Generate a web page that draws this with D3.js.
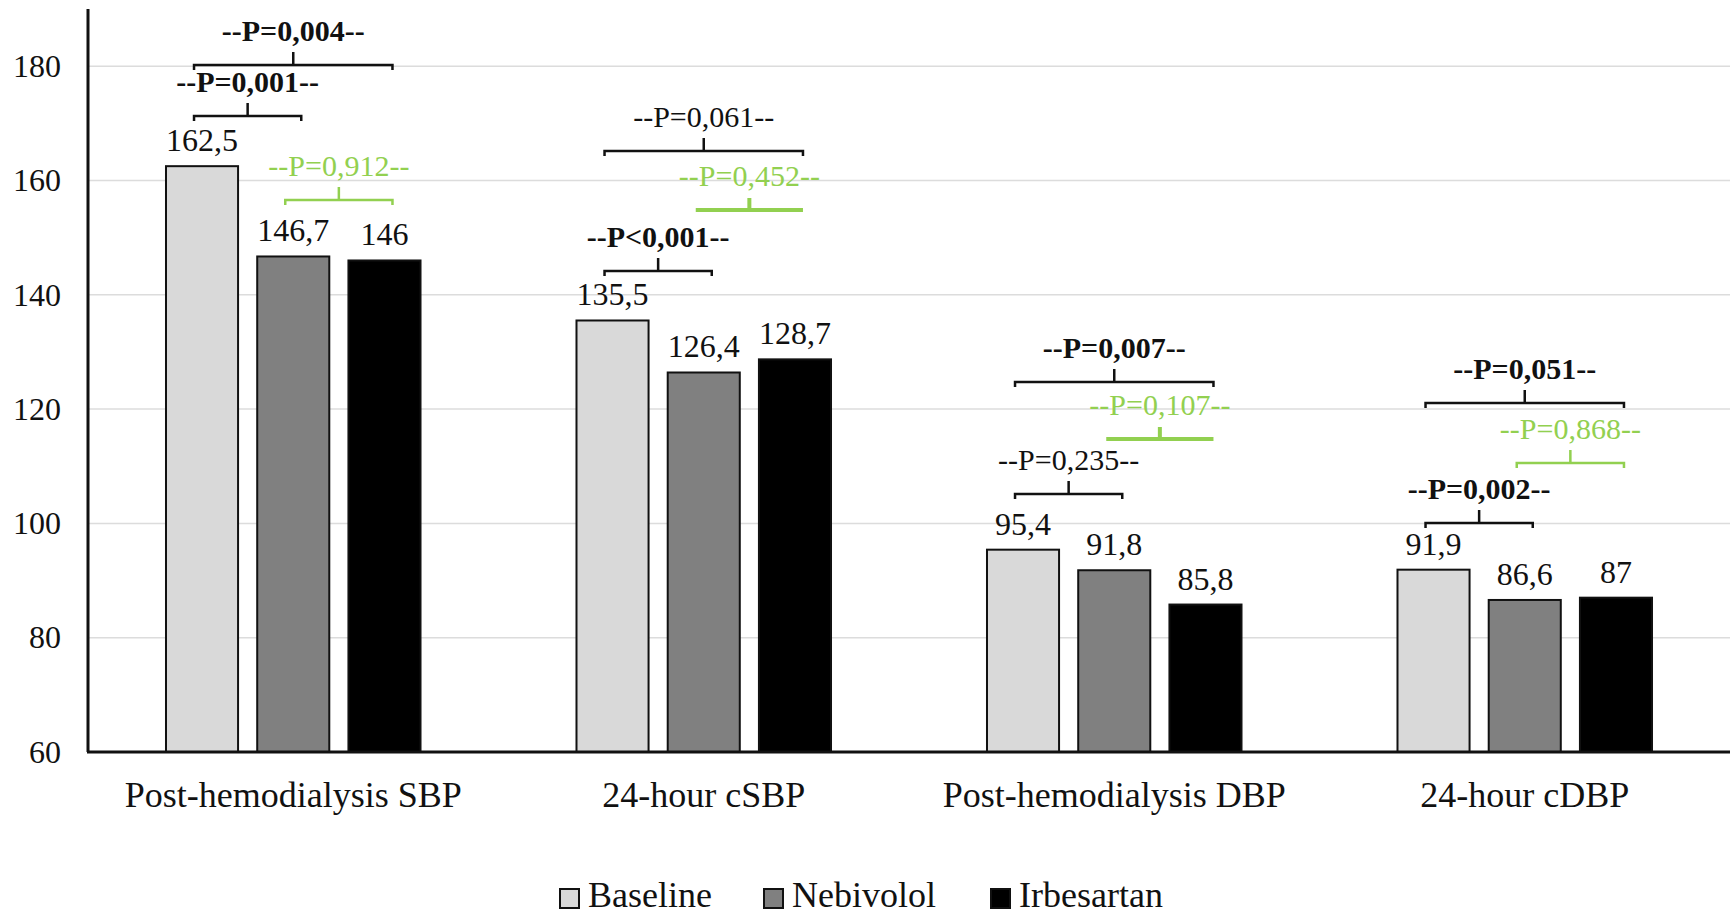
<!DOCTYPE html>
<html>
<head>
<meta charset="utf-8">
<script src="https://cdn.jsdelivr.net/npm/d3@7"></script>
<style>
  body { margin: 0; background: #fff; }
  text { font-family: "Liberation Serif", "Times New Roman", serif; }
</style>
</head>
<body>
<script>
var width = 1733;
var height = 918;

// data
var categories = ["Post-hemodialysis SBP", "24-hour cSBP", "Post-hemodialysis DBP", "24-hour cDBP"];
var series = ["Baseline", "Nebivolol", "Irbesartan"];
var baseline = [162.5, 135.5, 95.4, 91.9];
var nebivolol = [146.7, 126.4, 91.8, 86.6];
var irbesartan = [146, 128.7, 85.8, 87];
var yTicks = [60, 80, 100, 120, 140, 160, 180];

// p-value brackets: category index, from series, to series, level (y value), label
var pCat = [0, 0, 0, 1, 1, 1, 2, 2, 2, 3, 3, 3];
var pFrom = [0, 0, 1, 0, 1, 0, 0, 1, 0, 0, 1, 0];
var pTo = [2, 1, 2, 2, 2, 1, 2, 2, 1, 2, 2, 1];
var pLevel = [180.2, 171.2, 156.5, 165.1, 154.8, 144.1, 124.8, 114.7, 105.2, 121.0, 110.5, 100.1];
var pLabel = ["--P=0,004--", "--P=0,001--", "--P=0,912--", "--P=0,061--", "--P=0,452--", "--P<0,001--",
  "--P=0,007--", "--P=0,107--", "--P=0,235--", "--P=0,051--", "--P=0,868--", "--P=0,002--"];
var pBold = [true, true, false, false, false, true, true, false, false, true, false, true];

var values = [baseline, nebivolol, irbesartan];
var colors = ["#d9d9d9", "#808080", "#000000"];
var green = "#92d050";

var svg = d3.select('body').append('svg').attr('width', width).attr('height', height);

var plotLeft = 88, plotRight = 1730, plotTop = 9, plotBottom = 752;

var x0 = d3.scaleBand().domain(d3.range(categories.length)).range([plotLeft, plotRight])
  .paddingInner(0.38).paddingOuter(0.19);
var x1 = d3.scaleBand().domain(d3.range(series.length)).range([0, x0.bandwidth()])
  .paddingInner(0.21);
var y = d3.scaleLinear().domain([60, 190]).range([plotBottom, plotTop]);

// gridlines
svg.append("g").selectAll("line")
  .data(yTicks.slice(1))
  .enter().append("line")
  .attr("x1", plotLeft).attr("x2", plotRight)
  .attr("y1", function (d) { return y(d); })
  .attr("y2", function (d) { return y(d); })
  .attr("stroke", "#dcdcdc").attr("stroke-width", 1.5);

// y axis labels
var yAxis = svg.append("g").attr("transform", "translate(" + plotLeft + ",0)")
  .call(d3.axisLeft(y).tickValues(yTicks).tickSize(0).tickPadding(27));
yAxis.select(".domain").remove();
yAxis.selectAll("text").attr("font-size", 32).attr("fill", "#111")
  .style("font-family", "'Liberation Serif', serif");

// bars
var groups = svg.append("g").selectAll("g")
  .data(categories)
  .enter().append("g")
  .attr("transform", function (d, i) { return "translate(" + x0(i) + ",0)"; });

groups.selectAll("rect")
  .data(function (d, i) { return series.map(function (s, j) { return { s: j, v: values[j][i] }; }); })
  .enter().append("rect")
  .attr("x", function (d) { return x1(d.s); })
  .attr("y", function (d) { return y(d.v); })
  .attr("width", x1.bandwidth())
  .attr("height", function (d) { return y(60) - y(d.v); })
  .attr("fill", function (d) { return colors[d.s]; })
  .attr("stroke", "#111").attr("stroke-width", 2);

groups.selectAll("text.val")
  .data(function (d, i) { return series.map(function (s, j) { return { s: j, v: values[j][i] }; }); })
  .enter().append("text")
  .attr("class", "val")
  .attr("x", function (d) { return x1(d.s) + x1.bandwidth() / 2; })
  .attr("y", function (d) { return y(d.v) - 15; })
  .attr("text-anchor", "middle")
  .attr("font-size", 32).attr("fill", "#111")
  .text(function (d) { return String(d.v).replace(".", ","); });

// axes lines
svg.append("line").attr("x1", plotLeft).attr("x2", plotLeft).attr("y1", plotTop).attr("y2", plotBottom)
  .attr("stroke", "#111").attr("stroke-width", 3);
svg.append("line").attr("x1", plotLeft - 1).attr("x2", plotRight).attr("y1", plotBottom).attr("y2", plotBottom)
  .attr("stroke", "#111").attr("stroke-width", 3);

// category labels
svg.append("g").selectAll("text")
  .data(categories)
  .enter().append("text")
  .attr("x", function (d, i) { return x0(i) + x0.bandwidth() / 2; })
  .attr("y", 807)
  .attr("text-anchor", "middle")
  .attr("font-size", 36).attr("fill", "#111")
  .text(function (d) { return d; });

// p-value brackets
var flat = [4, 7];
var pg = svg.append("g");
pLabel.forEach(function (lab, k) {
  var c = pCat[k];
  var xa = x0(c) + x1(pFrom[k]) + x1.bandwidth() / 2 - 8;
  var xb = x0(c) + x1(pTo[k]) + x1.bandwidth() / 2 + 8;
  var yy = Math.round(y(pLevel[k]));
  var xm = (xa + xb) / 2;
  var col = (pFrom[k] == 1 && pTo[k] == 2) ? green : "#111";
  var thick = flat.indexOf(k) >= 0;
  var path = thick
    ? "M" + xa + "," + yy + "H" + xb + "M" + xm + "," + yy + "V" + (yy - 12)
    : "M" + xa + "," + (yy + 5) + "V" + yy + "H" + xb + "V" + (yy + 5) + "M" + xm + "," + yy + "V" + (yy - 13);
  pg.append("path").attr("d", path).attr("fill", "none")
    .attr("stroke", col).attr("stroke-width", thick ? 4 : 2.5);
  pg.append("text")
    .attr("x", xm).attr("y", yy - 24)
    .attr("text-anchor", "middle")
    .attr("font-size", 30)
    .attr("font-weight", pBold[k] ? "bold" : "normal")
    .attr("fill", col)
    .text(lab);
});

// legend
var legX = [560, 764, 991];
var leg = svg.append("g").selectAll("g")
  .data(series)
  .enter().append("g")
  .attr("transform", function (d, i) { return "translate(" + legX[i] + ",0)"; });
leg.append("rect").attr("x", 0).attr("y", 889).attr("width", 19).attr("height", 19)
  .attr("fill", function (d, i) { return colors[i]; })
  .attr("stroke", "#111").attr("stroke-width", 2);
leg.append("text").attr("x", 28).attr("y", 907)
  .attr("font-size", 36).attr("fill", "#111")
  .text(function (d) { return d; });
</script>
</body>
</html>
